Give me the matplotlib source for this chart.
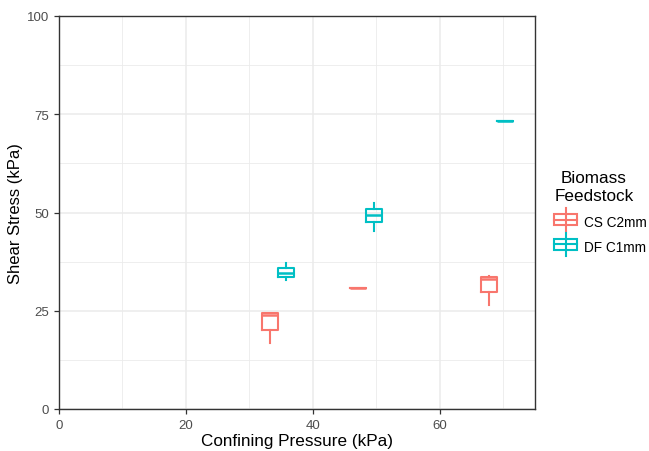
import matplotlib.pyplot as plt
from matplotlib.legend_handler import HandlerBase
from matplotlib.lines import Line2D
from matplotlib.patches import Rectangle

plt.rcParams['font.family'] = ['Liberation Sans', 'DejaVu Sans']

# box stats per feedstock: position, lower whisker, q1, median, q3, upper whisker
groups = ["CS C2mm", "DF C1mm"]
colors = ["#F8766D", "#00BFC4"]

cs_x = [33.2, 47.1, 67.8]
cs_lo = [16.7, 30.9, 26.5]
cs_q1 = [20.1, 30.9, 29.7]
cs_med = [23.8, 30.9, 33.0]
cs_q3 = [24.4, 30.9, 33.5]
cs_hi = [24.4, 30.9, 33.9]

df_x = [35.7, 49.6, 70.3]
df_lo = [32.8, 45.4, 73.3]
df_q1 = [33.5, 47.5, 73.3]
df_med = [34.5, 49.4, 73.3]
df_q3 = [35.8, 50.9, 73.3]
df_hi = [37.1, 52.4, 73.3]

series = [
    (cs_x, cs_lo, cs_q1, cs_med, cs_q3, cs_hi),
    (df_x, df_lo, df_q1, df_med, df_q3, df_hi),
]

fig = plt.figure(figsize=(6.49, 4.52), dpi=100)
ax = fig.add_axes([59 / 649, 1 - 410 / 452, (535 - 59) / 649, (410 - 17) / 452])

for (xs, lo, q1, med, q3, hi), col in zip(series, colors):
    stats = [dict(whislo=a, q1=b, med=c, q3=d, whishi=e, fliers=[])
             for a, b, c, d, e in zip(lo, q1, med, q3, hi)]
    ax.bxp(stats, positions=xs, widths=2.5, showcaps=False, manage_ticks=False,
           boxprops=dict(color=col, linewidth=1.5),
           medianprops=dict(color=col, linewidth=1.8),
           whiskerprops=dict(color=col, linewidth=1.5))

ax.set_xlim(0, 75)
ax.set_ylim(0, 100)
ax.set_xticks([0, 20, 40, 60])
ax.set_xticks([10, 30, 50, 70], minor=True)
ax.set_yticks([0, 25, 50, 75, 100])
ax.set_yticks([12.5, 37.5, 62.5, 87.5], minor=True)
ax.grid(which='major', color='#EBEBEB', linewidth=1.1)
ax.grid(which='minor', color='#EBEBEB', linewidth=0.6)
ax.set_axisbelow(True)
for s in ax.spines.values():
    s.set_color('#333333')
    s.set_linewidth(1.0)
ax.tick_params(which='major', length=3.5, color='#333333', labelcolor='#4D4D4D',
               labelsize=9.5, width=0.9)
ax.tick_params(which='minor', length=0)

ax.set_xlabel('Confining Pressure (kPa)', fontsize=12.3, labelpad=2)
ax.set_ylabel('Shear Stress (kPa)', fontsize=12, labelpad=3)


class BoxKey(HandlerBase):
    def create_artists(self, legend, orig, xd, yd, w, h, fontsize, trans):
        col = orig.get_color()
        cx = xd + w / 2
        r = Rectangle((xd, yd), w, h, fill=False,
                      edgecolor=col, linewidth=1.5, transform=trans)
        m = Line2D([xd, xd + w], [yd + h * 0.5] * 2, color=col,
                   linewidth=1.5, transform=trans)
        v = Line2D([cx, cx], [yd - h * 0.5, yd + h * 1.5], color=col,
                   linewidth=1.5, transform=trans)
        return [v, r, m]


handles = [Line2D([], [], color=c) for c in colors]
leg = fig.legend(handles, groups, handler_map={Line2D: BoxKey()},
                 title='Biomass\nFeedstock', loc='upper left',
                 bbox_to_anchor=(542 / 649, 1 - 159 / 452), frameon=False,
                 fontsize=9.8, title_fontsize=12.3, handlelength=1.7,
                 handleheight=0.9, labelspacing=0.8, handletextpad=0.5,
                 alignment='left')
leg.get_title().set_multialignment('center')
leg._legend_box.sep = 9

fig.savefig('out.png', dpi=100)
